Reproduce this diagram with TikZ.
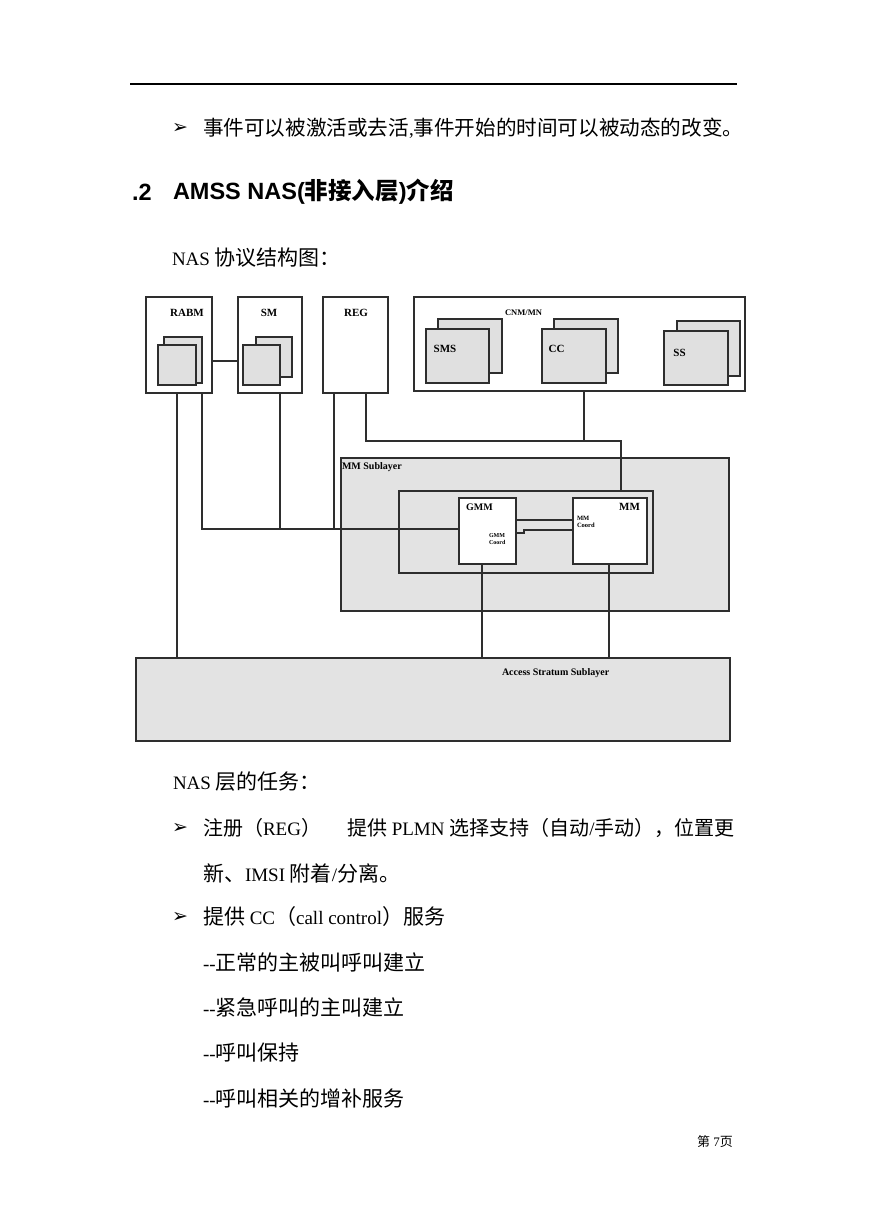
\documentclass[tikz,border=0pt]{standalone}
\usepackage{fontspec}
\setmainfont{Liberation Serif}
\newfontfamily\cjk{Noto Sans CJK SC}
\newfontfamily\hsans{Liberation Sans}
\newfontfamily\dingf{DejaVu Sans}
\def\zhsz{21}
\newcommand\zh[1]{{\cjk\fontsize{\zhsz}{24}\selectfont #1}}
\newcommand\bulmark{{\dingf\bfseries\fontsize{19}{19}\selectfont ➢}}
\definecolor{lc}{HTML}{2E2E2E}
\definecolor{gfill}{HTML}{E3E3E3}
\definecolor{sqfill}{HTML}{E0E0E0}
\begin{document}
\begin{tikzpicture}[x=1pt,y=-1pt,
  every node/.style={inner sep=0pt, outer sep=0pt},
  txt/.style={anchor=west, font=\fontsize{19}{23}\selectfont},
  dlbl/.style={font=\bfseries\fontsize{11}{12}\selectfont},
  tiny/.style={font=\bfseries\fontsize{6}{6.5}\selectfont, align=left},
  wbox/.style={draw=lc, line width=1.4pt, fill=white},
  gbox/.style={draw=lc, line width=1.4pt, fill=gfill},
  sq/.style={draw=lc, line width=1.2pt, fill=sqfill},
  wire/.style={draw=lc, line width=1.2pt}]
\fill[white] (0,0) rectangle (869,1228);
\useasboundingbox (0,0) rectangle (869,1228);

% header rule
\coordinate (hr1) at (130,84);
\coordinate (hr2) at (737,84);
\draw[line width=1.1pt] (hr1) -- (hr2);

% top text
\node[txt] (b1) at (172,128) {\bulmark};
\node[txt] (l1) at (203,128) {\def\zhsz{20.6}\zh{事件可以被激活或去活},\zh{事件开始的时间可以被动态的改变。}};
\node[anchor=west, font=\hsans\bfseries\fontsize{23.5}{26}\selectfont] (h0) at (132,192) {.2};
\node[anchor=west, font=\hsans\bfseries\fontsize{23.5}{26}\selectfont] (h1) at (173,192) {AMSS NAS({\cjk 非接入层}){\cjk 介绍}};
\node[txt] (cap) at (172,258) {NAS \zh{协议结构图：}};

% ---------- diagram ----------
% top row
\node[wbox, minimum width=66, minimum height=96] (rabm) at (179,345) {};
\node[wbox, minimum width=64, minimum height=96] (sm) at (270,345) {};
\node[wbox, minimum width=65, minimum height=96] (reg) at (355.5,345) {};
\node[wbox, minimum width=331, minimum height=94] (cnm) at (579.5,344) {};

\node[dlbl] (rabmt) at (187,313) {RABM};
\node[dlbl] (smt) at (269,313) {SM};
\node[dlbl] (regt) at (356,313) {REG};
\node[dlbl, font=\bfseries\fontsize{8.5}{9}\selectfont] (cnmt) at (523.5,313) {CNM/MN};

\node[sq, minimum width=38, minimum height=46] (rabmb) at (183,360) {};
\node[sq, minimum width=38, minimum height=40] (rabmf) at (177,365) {};
\node[sq, minimum width=36, minimum height=40] (smb) at (274,357) {};
\node[sq, minimum width=37, minimum height=40] (smf) at (261.5,365) {};

\node[sq, minimum width=64, minimum height=54] (smsb) at (470,346) {};
\node[sq, minimum width=63, minimum height=54] (smsf) at (457.5,356) {};
\node[sq, minimum width=64, minimum height=54] (ccb) at (586,346) {};
\node[sq, minimum width=64, minimum height=54] (ccf) at (574,356) {};
\node[sq, minimum width=63, minimum height=55] (ssb) at (708.5,348.5) {};
\node[sq, minimum width=64, minimum height=54] (ssf) at (696,358) {};
\node[dlbl] (smst) at (445,349) {SMS};
\node[dlbl] (cct) at (556.5,349) {CC};
\node[dlbl] (sst) at (679.5,353) {SS};

% MM sublayer
\node[gbox, minimum width=388, minimum height=153] (mmsub) at (535,534.5) {};
\node[dlbl, anchor=west, font=\bfseries\fontsize{10}{11}\selectfont] (mmsubt) at (342,467) {MM Sublayer};
\node[draw=lc, line width=1.4pt, minimum width=254, minimum height=82] (inner) at (526,532) {};

% access stratum
\node[gbox, minimum width=594, minimum height=83] (as) at (433,699.5) {};
\node[dlbl, anchor=west, font=\bfseries\fontsize{10}{11}\selectfont] (ast) at (502,673) {Access Stratum Sublayer};

% GMM / MM boxes
\node[wbox, minimum width=57, minimum height=66] (gmm) at (487.5,531) {};
\node[wbox, minimum width=74, minimum height=66] (mm) at (610,531) {};
\node[dlbl, font=\bfseries\fontsize{10}{11}\selectfont] (gmmt) at (479.5,507) {GMM};
\node[dlbl] (mmt) at (629.5,507) {MM};
\node[tiny, anchor=north west] (gmmc) at (489,534) {GMM\\Coord};
\node[tiny, font=\bfseries\fontsize{6.5}{7}\selectfont, anchor=north west] (mmc) at (577,516) {MM\\Coord};

% connectors
\coordinate (j1) at (280,529);
\coordinate (j2) at (334,529);
\coordinate (k1) at (621,441);
\coordinate (k2) at (584,441);
\coordinate (g1) at (524,533);
\coordinate (g2) at (524,530);

\draw[wire] (rabm.east |- 0,361) -- (sm.west |- 0,361);
\draw[wire] (rabm.south -| 177,0) -- (as.north -| 177,0);
\draw[wire] (rabm.south -| 202,0) |- (gmm.west |- 0,529);
\draw[wire] (sm.south -| j1) -- (j1);
\draw[wire] (reg.south -| j2) -- (j2);
\draw[wire] (reg.south -| 366,0) |- (k1) -- (inner.north -| k1);
\draw[wire] (cnm.south -| k2) -- (k2);
\draw[wire] (gmm.east |- 0,520) -- (mm.west |- 0,520);
\draw[wire] (gmm.east |- g1) -- (g1) -- (g2) -- (mm.west |- g2);
\draw[wire] (gmm.south -| 482,0) -- (as.north -| 482,0);
\draw[wire] (mm.south -| 609,0) -- (as.north -| 609,0);

% lower text
\node[txt] (n1) at (173,782) {NAS \zh{层的任务：}};
\node[txt] (b2) at (172,828) {\bulmark};
\node[txt] (l2a) at (203,828) {\def\zhsz{20}\zh{注册（}REG\zh{）}};
\node[txt] (l2b) at (347,828) {\def\zhsz{20}\zh{提供} PLMN \zh{选择支持（自动}/\zh{手动），位置更}};
\node[txt] (l3) at (203,873) {\zh{新、}IMSI \zh{附着}/\zh{分离。}};
\node[txt] (b3) at (172,917) {\bulmark};
\node[txt] (l4) at (203,917) {\zh{提供} CC\zh{（}call control\zh{）服务}};
\node[txt] (l5) at (203,962) {-{}-\zh{正常的主被叫呼叫建立}};
\node[txt] (l6) at (203,1007) {-{}-\zh{紧急呼叫的主叫建立}};
\node[txt] (l7) at (203,1053) {-{}-\zh{呼叫保持}};
\node[txt] (l8) at (203,1098) {-{}-\zh{呼叫相关的增补服务}};
\node[anchor=west, font=\fontsize{13}{15}\selectfont] (ft) at (697,1142) {\def\zhsz{13}\zh{第} 7\zh{页}};
\end{tikzpicture}
\end{document}
